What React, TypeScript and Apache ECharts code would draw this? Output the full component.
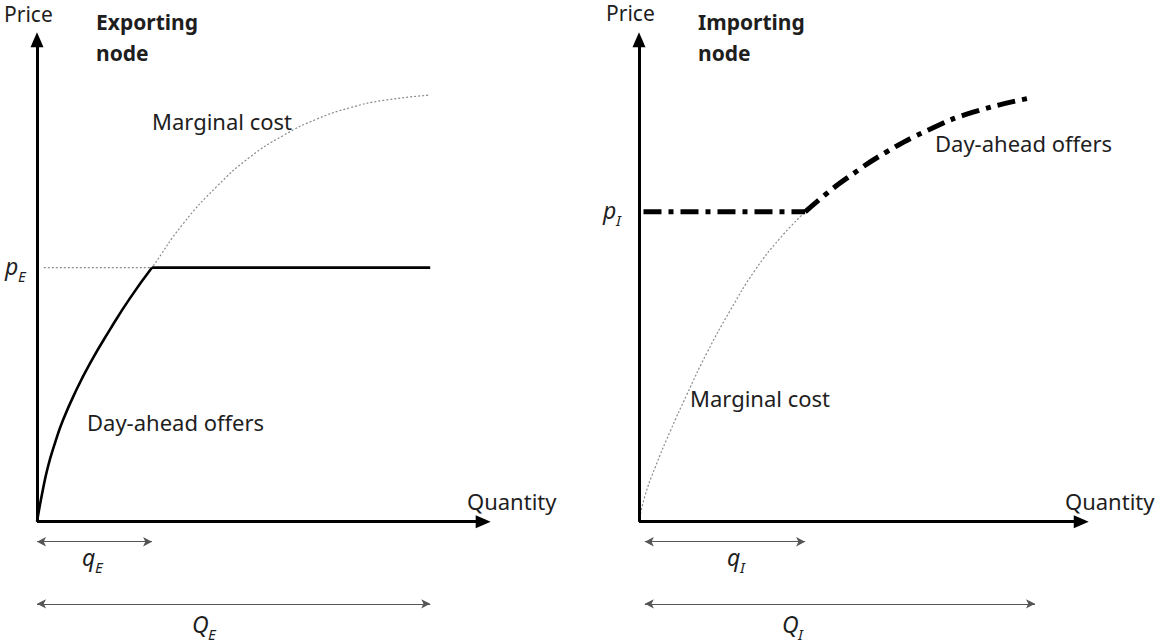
import React, { useEffect, useRef } from "react";
import * as echarts from "echarts";

// ---- Data (abstract units: quantity 0..100, price 0..100) ----
// Exporting node: marginal cost curve
const mcExportQ = [0, 1.1, 2.4, 4.0, 5.7, 8.4, 11.7, 16.1, 20.5, 25.4, 32.2, 39.7, 47.0, 54.3, 61.8, 69.1, 76.4, 86.8];
const mcExportP = [0, 5.6, 11.2, 16.2, 20.7, 26.4, 32.4, 39.3, 45.7, 52.0, 60.9, 68.6, 74.6, 79.0, 82.4, 84.7, 86.2, 87.3];
const pE = 52.0;
const qE = 25.4;
const QE = 86.8;

// Importing node: marginal cost curve up to qI
const mcImportQ = [0, 1.3, 3.6, 6.9, 10.7, 15.1, 20.3, 25.8, 31.4, 37.0];
const mcImportP = [0, 5.2, 11.1, 18.4, 26.1, 34.5, 43.2, 51.4, 58.0, 63.4];
// Importing node: day-ahead offers above pI
const offerImportQ = [37.0, 41.6, 46.3, 55.2, 64.8, 74.4, 87.1];
const offerImportP = [63.4, 67.0, 70.3, 75.7, 80.3, 83.8, 86.7];
const pI = 63.4;
const qI = 37.0;
const QI = 88.2;

// axis extents (end of arrows) and marker rows
const axisEndX = 98.5;
const axisEndY = 98.6;
const smallArrowRow = -4.1;
const bigArrowRow = -16.8;

const FONT = "'Noto Sans', 'Open Sans', sans-serif";
const TXT = "#1e1e1e";
const BASE = 22;

function zip(a: number[], b: number[]) {
  return a.map((v, i) => [v, b[i]]);
}

export default function App() {
  const ref = useRef<HTMLDivElement>(null);
  useEffect(() => {
    if (!ref.current) return;
    const chart = echarts.init(ref.current, undefined, { renderer: "svg" });

    const leftCurve = zip(mcExportQ, mcExportP);
    const leftSolidCurve = leftCurve.filter((p) => p[0] <= qE);

    const axisMarks = (qSmall: number, qBig: number, startSmall: number) => ({
      silent: true,
      animation: false,
      label: { show: false },
      emphasis: { disabled: true },
      data: [
        [
          { coord: [0, 0], symbol: "none", lineStyle: { color: "#000", width: 3, type: "solid" } },
          { coord: [axisEndX, 0], symbol: "triangle", symbolSize: [13, 15] },
        ],
        [
          { coord: [0, 0], symbol: "none", lineStyle: { color: "#000", width: 3, type: "solid" } },
          { coord: [0, axisEndY], symbol: "triangle", symbolSize: [13, 15] },
        ],
        [
          { coord: [startSmall, smallArrowRow], symbol: "arrow", symbolSize: [7, 9], lineStyle: { color: "#555", width: 1.2, type: "solid" } },
          { coord: [qSmall, smallArrowRow], symbol: "arrow", symbolSize: [7, 9] },
        ],
        [
          { coord: [startSmall, bigArrowRow], symbol: "arrow", symbolSize: [7, 9], lineStyle: { color: "#555", width: 1.2, type: "solid" } },
          { coord: [qBig, bigArrowRow], symbol: "arrow", symbolSize: [7, 9] },
        ],
      ],
    });

    const hiddenAxis = (min: number, max: number) => ({
      type: "value" as const,
      min,
      max,
      show: false,
      splitLine: { show: false },
    });

    const txt = (text: string, x: number, y: number, extra: any = {}) => ({
      type: "text",
      x,
      y,
      silent: true,
      style: {
        text,
        fill: TXT,
        font: `${extra.style || "normal"} ${extra.weight || "normal"} ${extra.size || BASE}px ${FONT}`,
        verticalAlign: "middle",
        align: "left",
      },
    });

    const option: any = {
      animation: false,
      backgroundColor: "#fff",
      grid: [
        { left: 37, top: 33, width: 453, height: 606 },
        { left: 639, top: 33, width: 449, height: 606 },
      ],
      xAxis: [
        { ...hiddenAxis(0, 100), gridIndex: 0 },
        { ...hiddenAxis(0, 100), gridIndex: 1 },
      ],
      yAxis: [
        { ...hiddenAxis(-24, 100), gridIndex: 0 },
        { ...hiddenAxis(-24, 100), gridIndex: 1 },
      ],
      series: [
        // ---- Exporting node ----
        {
          name: "Marginal cost (export)",
          type: "line",
          xAxisIndex: 0,
          yAxisIndex: 0,
          data: leftCurve,
          smooth: 0.5,
          showSymbol: false,
          silent: true,
          clip: false,
          lineStyle: { color: "#8a8a8a", width: 1.2, type: [2, 2] },
          markLine: axisMarks(qE, QE, 0),
          z: 2,
        },
        {
          name: "pE reference",
          type: "line",
          xAxisIndex: 0,
          yAxisIndex: 0,
          data: [
            [1.5, pE],
            [qE, pE],
          ],
          showSymbol: false,
          silent: true,
          lineStyle: { color: "#8a8a8a", width: 1.2, type: [2, 2] },
          z: 2,
        },
        {
          name: "Day-ahead offers (export curve)",
          type: "line",
          xAxisIndex: 0,
          yAxisIndex: 0,
          data: leftSolidCurve,
          smooth: 0.5,
          showSymbol: false,
          silent: true,
          lineStyle: { color: "#000", width: 2.6 },
          z: 3,
        },
        {
          name: "Day-ahead offers (export flat)",
          type: "line",
          xAxisIndex: 0,
          yAxisIndex: 0,
          data: [
            [qE, pE],
            [QE, pE],
          ],
          showSymbol: false,
          silent: true,
          lineStyle: { color: "#000", width: 2.6 },
          z: 3,
        },
        // ---- Importing node ----
        {
          name: "Marginal cost (import)",
          type: "line",
          xAxisIndex: 1,
          yAxisIndex: 1,
          data: zip(mcImportQ, mcImportP),
          smooth: 0.5,
          showSymbol: false,
          silent: true,
          lineStyle: { color: "#8a8a8a", width: 1.2, type: [2, 2] },
          markLine: axisMarks(qI, QI, 1.3),
          z: 2,
        },
        {
          name: "Day-ahead offers (import flat)",
          type: "line",
          xAxisIndex: 1,
          yAxisIndex: 1,
          data: [
            [1.0, pI],
            [qI, pI],
          ],
          showSymbol: false,
          silent: true,
          lineStyle: { color: "#000", width: 5, type: [18, 7, 5, 7], cap: "butt" },
          z: 3,
        },
        {
          name: "Day-ahead offers (import curve)",
          type: "line",
          xAxisIndex: 1,
          yAxisIndex: 1,
          data: zip(offerImportQ, offerImportP),
          smooth: 0.5,
          showSymbol: false,
          silent: true,
          lineStyle: { color: "#000", width: 5, type: [18, 7, 5, 7], cap: "butt" },
          z: 3,
        },
      ],
      graphic: [
        // left panel
        txt("Price", 4, 14, { size: 21 }),
        txt("Exporting", 96, 22, { weight: "bold", size: 21 }),
        txt("node", 96, 53, { weight: "bold", size: 21 }),
        txt("Marginal cost", 152, 121),
        txt("Day-ahead offers", 87, 422),
        txt("Quantity", 467, 501),
        txt("p", 5, 266, { style: "italic", size: 23 }),
        txt("E", 18, 276, { style: "italic", size: 15 }),
        txt("q", 82, 557, { style: "italic", size: 23 }),
        txt("E", 95, 567, { style: "italic", size: 15 }),
        txt("Q", 192, 624, { style: "italic", size: 23 }),
        txt("E", 208, 634, { style: "italic", size: 15 }),
        // right panel
        txt("Price", 606, 13, { size: 21 }),
        txt("Importing", 698, 22, { weight: "bold", size: 21 }),
        txt("node", 698, 53, { weight: "bold", size: 21 }),
        txt("Day-ahead offers", 935, 143),
        txt("Marginal cost", 690, 398),
        txt("Quantity", 1065, 501),
        txt("p", 603, 210, { style: "italic", size: 23 }),
        txt("I", 616, 220, { style: "italic", size: 15 }),
        txt("q", 727, 557, { style: "italic", size: 23 }),
        txt("I", 740, 567, { style: "italic", size: 15 }),
        txt("Q", 782, 624, { style: "italic", size: 23 }),
        txt("I", 798, 634, { style: "italic", size: 15 }),
      ],
    };

    chart.setOption(option);
    return () => chart.dispose();
  }, []);

  return (
    <div
      ref={ref}
      style={{ position: "fixed", left: 0, top: 0, width: 1161, height: 644, background: "#fff" }}
    />
  );
}
